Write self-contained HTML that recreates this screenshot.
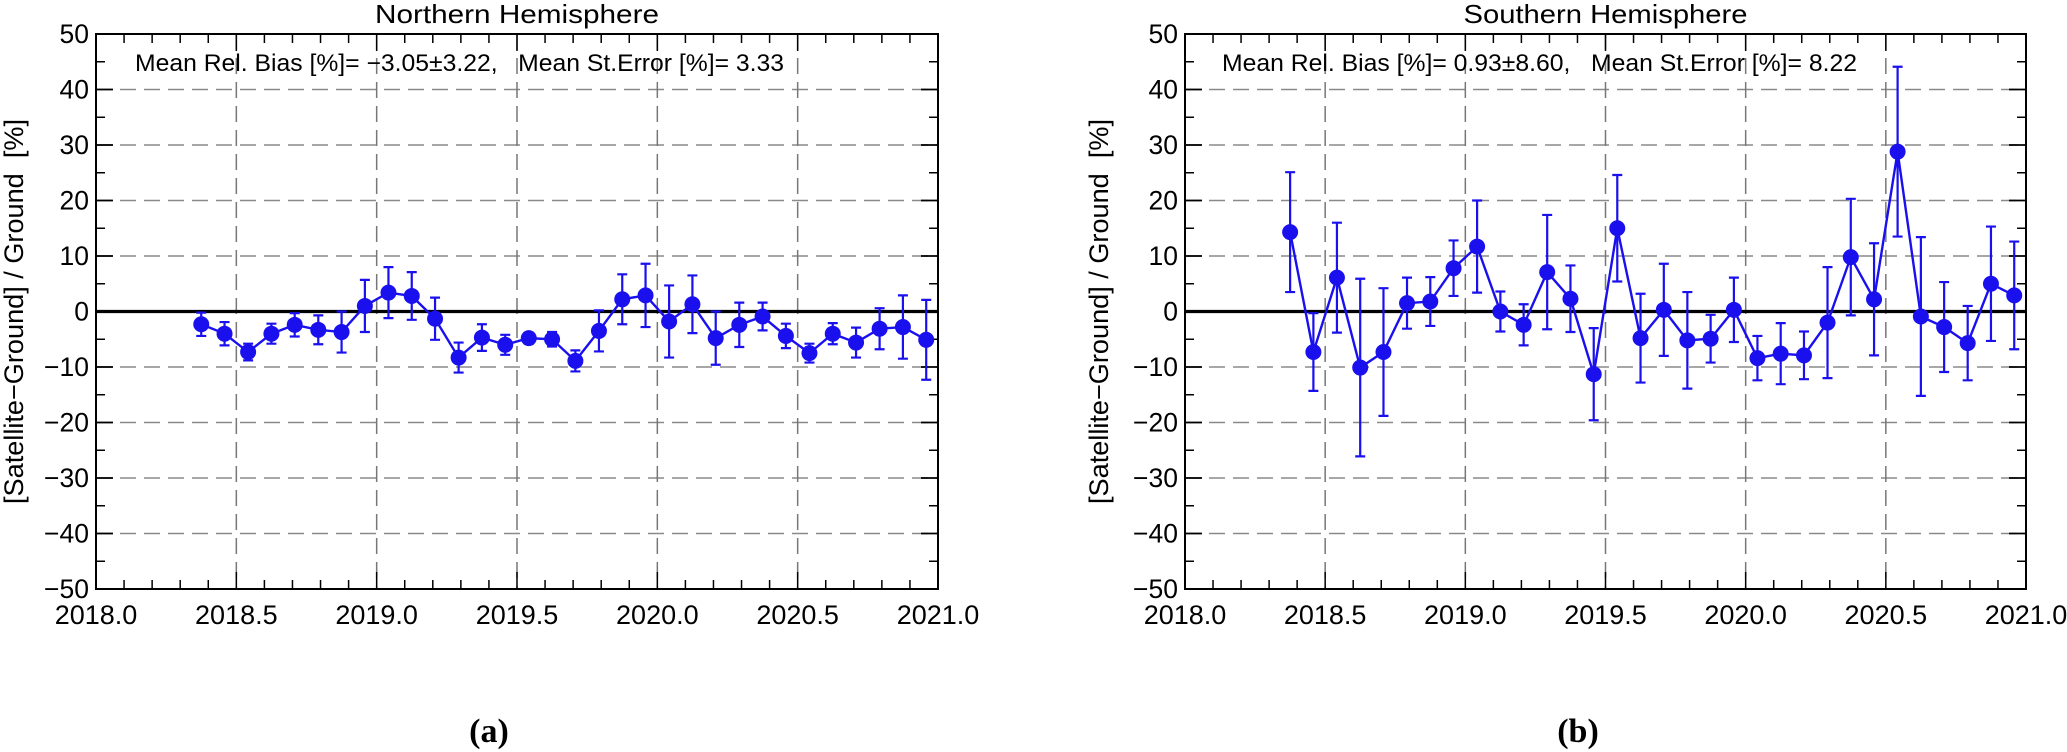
<!DOCTYPE html>
<html><head><meta charset="utf-8"><style>
body{margin:0;background:#fff;}
svg{display:block;font-family:"Liberation Sans",sans-serif;}
</style></head><body>
<svg id="svg" width="2067" height="752" viewBox="0 0 2067 752"></svg>
<script>
const months = [2018.375,2018.458,2018.542,2018.625,2018.708,2018.792,2018.875,2018.958,2019.042,2019.125,2019.208,2019.292,2019.375,2019.458,2019.542,2019.625,2019.708,2019.792,2019.875,2019.958,2020.042,2020.125,2020.208,2020.292,2020.375,2020.458,2020.542,2020.625,2020.708,2020.792,2020.875,2020.958];
const northValues = [-2.3,-4.0,-7.3,-4.0,-2.4,-3.3,-3.7,1.0,3.4,2.8,-1.3,-8.3,-4.7,-6.0,-4.8,-5.0,-8.9,-3.5,2.2,2.9,-1.8,1.3,-4.8,-2.4,-0.9,-4.4,-7.5,-4.0,-5.6,-3.1,-2.8,-5.1];
const northErrors = [2.1,2.1,1.5,1.8,2.1,2.6,3.7,4.7,4.6,4.3,3.8,2.7,2.4,1.8,1.0,1.3,1.9,3.7,4.5,5.7,6.5,5.2,4.8,4.0,2.5,2.2,1.7,1.9,2.7,3.7,5.7,7.2];
const southValues = [14.3,-7.3,6.1,-10.1,-7.3,1.5,1.8,7.8,11.7,0.0,-2.4,7.1,2.3,-11.3,15.0,-4.8,0.3,-5.2,-4.9,0.3,-8.4,-7.6,-7.9,-2.0,9.8,2.2,28.8,-0.9,-2.8,-5.7,5.0,2.9];
const southErrors = [10.8,7.0,9.9,16.0,11.5,4.6,4.4,5.0,8.3,3.6,3.7,10.3,6.0,8.3,9.6,8.0,8.3,8.7,4.3,5.8,4.0,5.5,4.3,10.0,10.5,10.1,15.3,14.3,8.1,6.7,10.3,9.7];
const xTicks = [2018.0,2018.5,2019.0,2019.5,2020.0,2020.5,2021.0];
const xTickLabels = ["2018.0","2018.5","2019.0","2019.5","2020.0","2020.5","2021.0"];
const yTicks = [-50,-40,-30,-20,-10,0,10,20,30,40,50];

const NS='http://www.w3.org/2000/svg';
const svg=document.getElementById('svg');
function mk(tag,attrs,parent,text){const e=document.createElementNS(NS,tag);for(const k in attrs)e.setAttribute(k,attrs[k]);if(text!==undefined)e.textContent=text;(parent||svg).appendChild(e);return e;}

function panel(cfg){
  const g=mk('g',{});
  
  
  const L=cfg.left,R=cfg.right,T=34,B=589;
  const xs=v=>L+(v-2018)/3*(R-L);
  const ys=v=>T+(50-v)/100*(B-T);
  yTicks.forEach(v=>{ if(v===50||v===-50||v===0)return;
    const l=mk('line',{x1:L,x2:R,y1:ys(v),y2:ys(v),stroke:'#8a8a8a','stroke-width':1.6,'stroke-dasharray':'16 8'},g);
    
    
  });
  xTicks.forEach(v=>{ if(v===2018||v===2021)return;
    const l=mk('line',{x1:xs(v),x2:xs(v),y1:T,y2:B,stroke:'#777','stroke-width':1.5,'stroke-dasharray':'16 8'},g);
    
    
  });
  for(let v=-45;v<=45;v+=10){
    mk('line',{x1:L,x2:L+9,y1:ys(v),y2:ys(v),stroke:'#000','stroke-width':1.5},g);
    mk('line',{x1:R,x2:R-9,y1:ys(v),y2:ys(v),stroke:'#000','stroke-width':1.5},g);
  }
  yTicks.forEach(v=>{
    mk('line',{x1:L,x2:L+17,y1:ys(v),y2:ys(v),stroke:'#000','stroke-width':1.8},g);
    mk('line',{x1:R,x2:R-17,y1:ys(v),y2:ys(v),stroke:'#000','stroke-width':1.8},g);
    const t=mk('text',{x:L-7,y:ys(v)+9,'text-anchor':'end','font-size':26.5},g,v<0?'\u2212'+(-v):String(v));
    
    
  });
  for(let i=0;i<=30;i++){const v=2018+i*0.1;const big=i%5===0;
    mk('line',{x1:xs(v),x2:xs(v),y1:B,y2:B-(big?17:9),stroke:'#000','stroke-width':1.5},g);
    mk('line',{x1:xs(v),x2:xs(v),y1:T,y2:T+(big?17:9),stroke:'#000','stroke-width':1.5},g);
  }
  xTicks.forEach((v,i)=>{
    const t=mk('text',{x:xs(v),y:624,'text-anchor':'middle','font-size':27},g,xTickLabels[i]);
    
    
  });
  const frame=mk('rect',{x:L,y:T,width:R-L,height:B-T,fill:'none',stroke:'#000','stroke-width':2},g);
  
  
  const z=mk('line',{x1:L,x2:R,y1:ys(0),y2:ys(0),stroke:'#000','stroke-width':3.2},g);
  
  
  const ti=mk('text',{x:(L+R)/2-142,y:23,'font-size':26,'textLength':284,'lengthAdjust':'spacingAndGlyphs'},g,cfg.title);
  
  
  const st=mk('text',{x:cfg.statX,y:71,'font-size':24,'textLength':cfg.statW,'lengthAdjust':'spacingAndGlyphs'},g,cfg.stat);
  
  
  const yl=mk('text',{x:-192,y:0,'font-size':27,'textLength':385,'lengthAdjust':'spacingAndGlyphs',transform:`translate(${cfg.ylx},312) rotate(-90)`},g,'[Satellite\u2212Ground] / Ground \u00a0[%]');
  
  
  const pl=mk('text',{x:cfg.labX,y:742,'text-anchor':'middle','font-size':34,'font-weight':'bold','font-family':'Liberation Serif, serif'},g,cfg.lab);
  
  
  const vals=cfg.values,errs=cfg.errors;
  const pts=months.map((m,i)=>xs(m)+','+ys(vals[i])).join(' ');
  const line=mk('polyline',{points:pts,fill:'none',stroke:'#1a10ee','stroke-width':2.4},g);
  
  
  months.forEach((m,i)=>{
    const x=xs(m),y1=ys(vals[i]+errs[i]),y2=ys(vals[i]-errs[i]);
    const eb=mk('path',{d:`M${x},${y1}V${y2}M${x-5},${y1}H${x+5}M${x-5},${y2}H${x+5}`,stroke:'#1a10ee','stroke-width':2.2,fill:'none'},g);
    
    
    const c=mk('circle',{cx:x,cy:ys(vals[i]),r:8,fill:'#1a10ee'},g);
    
    
  });
}
panel({name:'northern-hemisphere-panel',left:96,right:938,title:'Northern Hemisphere',stat:'Mean Rel. Bias [%]= \u22123.05\u00b13.22,\u00a0\u00a0 Mean St.Error [%]= 3.33',statX:135,statW:649,ylx:23,labX:489,lab:'(a)',values:northValues,errors:northErrors});
panel({name:'southern-hemisphere-panel',left:1185,right:2026,title:'Southern Hemisphere',stat:'Mean Rel. Bias [%]= 0.93\u00b18.60,\u00a0\u00a0 Mean St.Error [%]= 8.22',statX:1222,statW:635,ylx:1108,labX:1578,lab:'(b)',values:southValues,errors:southErrors});
</script>
</body></html>
